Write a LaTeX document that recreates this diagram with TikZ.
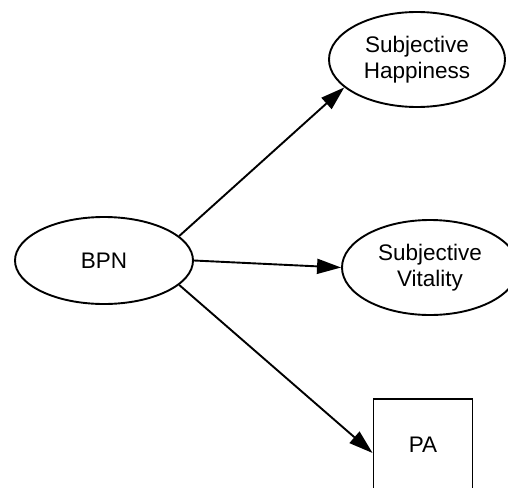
\documentclass[tikz,border=0pt]{standalone}
\usepackage{fontspec}
\setmainfont{Liberation Sans}
\usetikzlibrary{arrows.meta,shapes.geometric}

\begin{document}
\begin{tikzpicture}[x=1pt, y=-1pt, line width=1.9pt,
  every node/.style={font=\fontsize{22.5}{26}\selectfont, align=center, inner sep=0pt},
  latent/.style={ellipse, draw=black, minimum width=176pt, minimum height=95pt},
  observed/.style={rectangle, draw=black, minimum width=99pt, minimum height=92pt},
  effect/.style={-{Triangle[length=24pt,width=15pt]}}]
\useasboundingbox (0,0) rectangle (508,487);
\clip (0,0) rectangle (508,487);
% Model
\node[latent, minimum width=178pt, minimum height=87pt] (bpn) at (104,260.5) {BPN};
\node[latent] (happy) at (417,59.5) {Subjective\\Happiness};
\node[latent] (vital) at (430,267.5) {Subjective\\Vitality};
\node[observed] (pa) at (423,445) {PA};
\draw[effect] (bpn.18) -- (happy.201);
\draw[effect] (bpn.east) -- (vital.west);
\draw[effect] (bpn.-18) -- (pa.189);
\end{tikzpicture}
\end{document}
